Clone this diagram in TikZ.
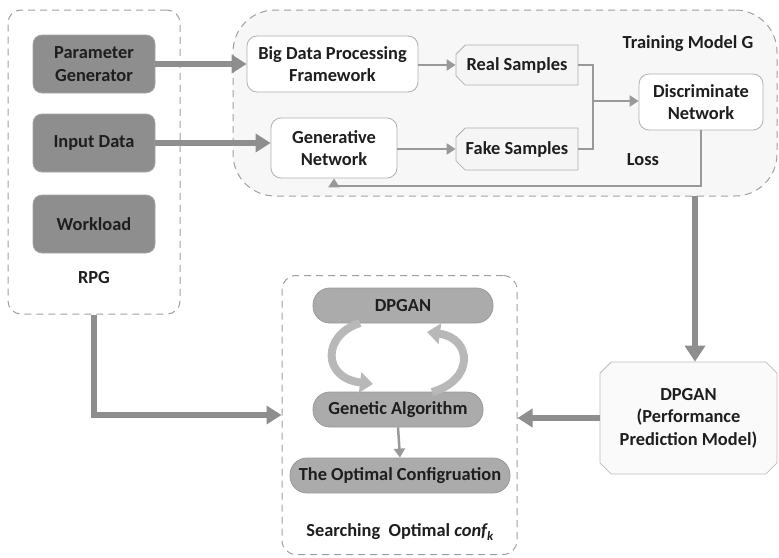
\documentclass[tikz,border=0pt]{standalone}
\usepackage{fontspec}
\setmainfont{Carlito}
\usetikzlibrary{arrows.meta,shapes.misc}
\definecolor{dk}{HTML}{8E8E8E}
\definecolor{pl}{HTML}{ABABAB}
\definecolor{ar}{HTML}{999999}
\definecolor{ard}{HTML}{8E8E8E}
\definecolor{txt}{HTML}{1E1E1E}
\definecolor{dsh}{HTML}{A0A0A0}
\definecolor{edge}{HTML}{B0B0B0}
\definecolor{cur}{HTML}{B8B8B8}
\begin{document}
\begin{tikzpicture}[x=1pt,y=-1pt,
  font=\fontsize{18.4}{22.5}\selectfont\bfseries, text=txt,
  dashbox/.style={draw=dsh, dash pattern=on 7pt off 5pt, line width=1pt, inner sep=0pt},
  darkbox/.style={fill=dk, draw=dk!80!white, rounded corners=9pt, minimum width=122pt, minimum height=58pt, align=center, line width=.8pt, inner sep=0pt},
  whitebox/.style={fill=white, draw=edge, rounded corners=10pt, align=center, line width=.8pt, inner sep=0pt},
  sample/.style={chamfered rectangle, chamfered rectangle corners={north west,south west}, chamfered rectangle xsep=6pt, fill=black!4, draw=edge, line width=.8pt, minimum width=122pt, inner sep=0pt},
  pill/.style={fill=pl, draw=black!40, rounded corners=17pt, minimum height=35pt, line width=.8pt, inner sep=0pt},
  thinarrow/.style={draw=ar, line width=2.5pt, -{Triangle[length=9pt,width=11pt]}},
  thinline/.style={draw=ar, line width=2.5pt},
  thickarrow/.style={draw=ard, line width=5.5pt, -{Triangle[length=15pt,width=18pt]}},
  curvarrow/.style={draw=cur, line width=8pt, -{Triangle[length=13pt,width=20pt]}},
  label/.style={inner sep=0pt}
]
\useasboundingbox (0,0) rectangle (779,557);

% containers
\node[dashbox, rounded corners=13pt, minimum width=172pt, minimum height=304pt] (rpg) at (94,162) {};
\node[dashbox, fill=black!3, rounded corners=42pt, minimum width=544pt, minimum height=186pt] (train) at (505,103) {};
\node[dashbox, rounded corners=14pt, minimum width=235pt, minimum height=279pt] (search) at (399.5,415) {};

% RPG
\node[darkbox] (pg) at (94,64) {Parameter\\Generator};
\node[darkbox] (id) at (94,143) {Input Data};
\node[darkbox] (wl) at (94,224) {Workload};
\node[label] (rpgl) at (94,278) {RPG};

% Training model
\node[whitebox, minimum width=171pt, minimum height=56pt] (bd) at (332.5,64) {Big Data Processing\\Framework};
\node[whitebox, minimum width=126pt, minimum height=60pt] (gen) at (334,148) {Generative\\Network};
\node[sample, minimum height=40pt] (real) at (517,65) {Real Samples};
\node[sample, minimum height=42pt] (fake) at (517,149) {Fake Samples};
\node[whitebox, minimum width=124pt, minimum height=56pt] (disc) at (701,102) {Discriminate\\Network};
\node[label] (tml) at (688,44) {Training Model G};
\node[label] (loss) at (643,160) {Loss};

% performance model
\node[chamfered rectangle, chamfered rectangle xsep=8pt, fill=black!2, draw=edge!85!white, line width=.8pt,
      minimum width=177pt, minimum height=112pt, align=center, inner sep=0pt] (ppm) at (688.5,418)
      {DPGAN\\(Performance\\Prediction Model)};

% search
\node[pill, minimum width=180pt] (dpgan) at (403,305.5) {DPGAN};
\node[pill, minimum width=170pt] (ga) at (398,409.5) {Genetic Algorithm};
\node[pill, minimum width=220pt] (opt) at (400,475.5) {The Optimal Configruation};
\node[label] (sl) at (400,532) {Searching~ Optimal \textit{conf\textsubscript{k}}};

% connectors
\draw[thickarrow] (pg.east) -- (pg.east -| bd.west);
\draw[thickarrow] (id.east) -- (id.east -| gen.west);
\draw[thinarrow] (bd.east |- real.west) -- (real.west);
\draw[thinarrow] (gen.east |- fake.west) -- (fake.west);
\coordinate (mj) at (593,101);
\draw[thinline] (real.east) -| (mj);
\draw[thinline] (fake.east) -| (mj);
\draw[thinarrow] ([xshift=-1.25pt]mj) -- (mj -| disc.west);
\coordinate (lc) at (701,186);
\draw[thinarrow] (disc.south) -- (lc) -| (gen.south);

\coordinate (bt) at (695,196);
\draw[thickarrow, line width=6pt, -{Triangle[length=16pt,width=20pt]}] (bt) -- (bt |- ppm.north);
\draw[thickarrow] (ppm.west) -- (ppm.west -| search.east);
\draw[thickarrow] (rpg.south) |- (search.west);

\draw[thinarrow] (ga.south) -- (opt.north);

\coordinate (c1) at (360,323);
\coordinate (c2) at (373,384);
\coordinate (c3) at (432,392);
\coordinate (c4) at (427,332);
\draw[curvarrow] (c1) .. controls (322,335) and (322,378) .. (c2);
\draw[curvarrow] (c3) .. controls (475,380) and (472,338) .. (c4);
\end{tikzpicture}
\end{document}
